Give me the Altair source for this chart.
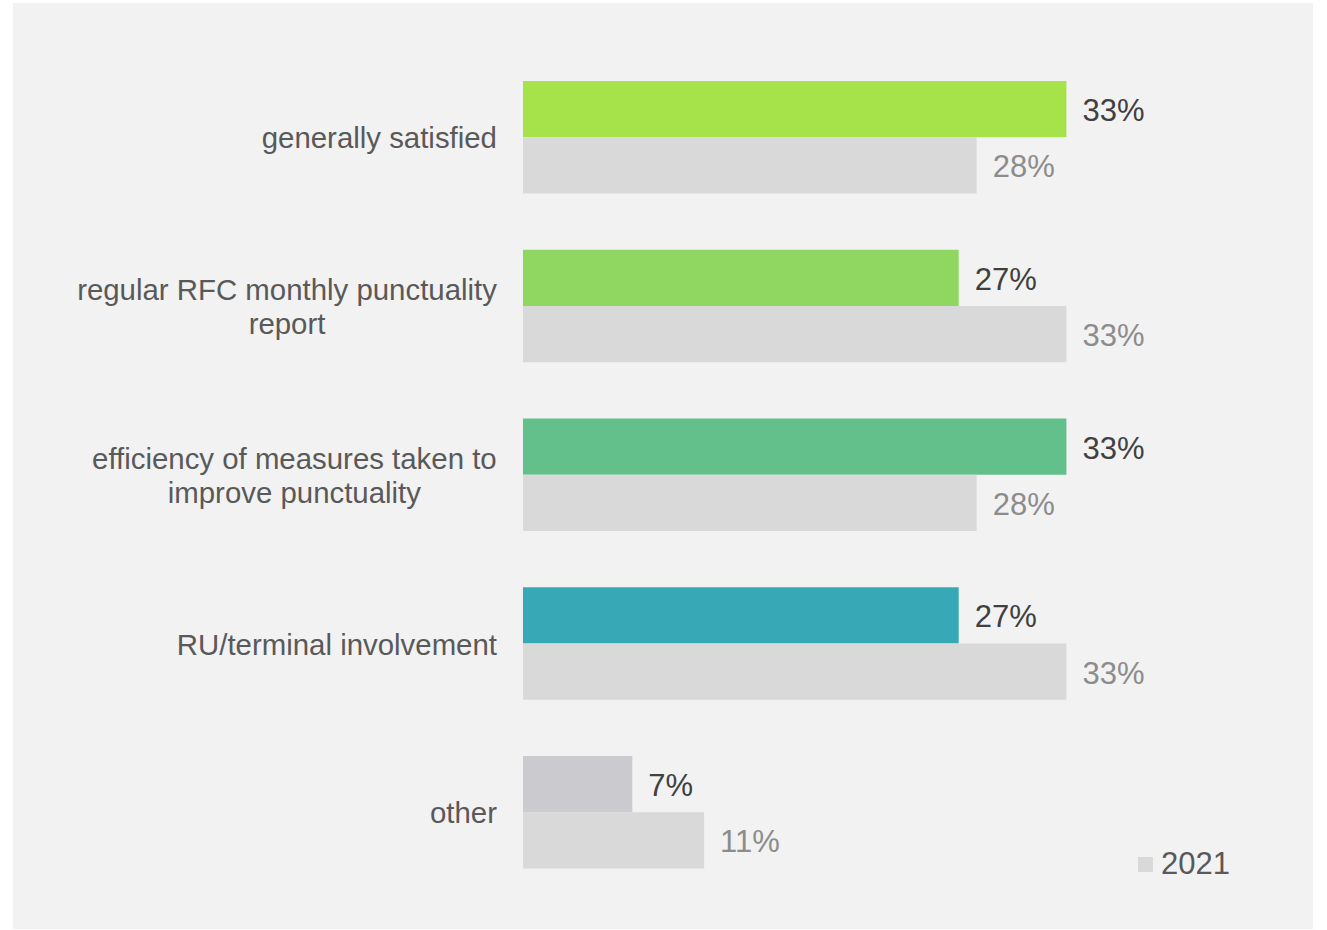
import altair as alt
import pandas as pd

# ---- data ----
categories = [
    "generally satisfied",
    "regular RFC monthly punctuality\nreport",
    "efficiency of measures taken to\nimprove punctuality",
    "RU/terminal involvement",
    "other",
]
current_values = [33.3, 26.7, 33.3, 26.7, 6.7]
previous_values = [27.8, 33.3, 27.8, 33.3, 11.1]
bar_colors = ["#a6e34b", "#8fd760", "#63c08b", "#37a8b6", "#cbcacf"]
previous_name = "2021"

# ---- layout constants ----
W, H = 1300, 926
X_MIN, X_MAX = -31.25, 48.41
PX_PER_UNIT = W / (X_MAX - X_MIN)
Y_TOP, Y_BOTTOM = 78, 865.5
FONT = "Liberation Sans"
LABEL_SIZE = 29.4
VALUE_SIZE = 31
LABEL_GAP = 26
LINE_H = 34

# Arial / Liberation Sans advance widths (per 1000 em)
_W = {" ": 278, "a": 556, "b": 556, "c": 500, "d": 556, "e": 556, "f": 278, "g": 556,
      "h": 556, "i": 222, "j": 222, "k": 500, "l": 222, "m": 833, "n": 556, "o": 556,
      "p": 556, "q": 556, "r": 333, "s": 500, "t": 278, "u": 556, "v": 500, "w": 722,
      "x": 500, "y": 500, "z": 500, "R": 722, "F": 611, "C": 722, "U": 722, "/": 278}


def text_width(s, size):
    return sum(_W.get(ch, 556) for ch in s) / 1000.0 * size


ids = [f"c{i}" for i in range(len(categories))]

# band domain: for each category a current band, a previous band and a spacer
row_domain = []
for i, cid in enumerate(ids):
    row_domain += [cid + "_cur", cid + "_prev"]
    if i < len(ids) - 1:
        row_domain.append(cid + "_gap")

cur_df = pd.DataFrame({
    "key": [c + "_cur" for c in ids],
    "value": current_values,
    "label": [f"{round(v)}%" for v in current_values],
    "barcolor": bar_colors,
})
prev_df = pd.DataFrame({
    "key": [c + "_prev" for c in ids],
    "value": previous_values,
    "label": [f"{round(v)}%" for v in previous_values],
    "series": [previous_name] * len(ids),
})

lab_rows = []
for cid, text in zip(ids, categories):
    lines = text.split("\n")
    block_w = max(text_width(l, LABEL_SIZE) for l in lines)
    lab_rows.append({
        "key": cid + "_prev",
        "txt": text,
        "multi": len(lines) > 1,
        "xc": -(LABEL_GAP + block_w / 2) / PX_PER_UNIT,
    })
labels = pd.DataFrame(lab_rows)
single_df = labels[~labels.multi].drop(columns=["multi"])
multi_df = labels[labels.multi].drop(columns=["multi"])

x_scale = alt.Scale(domain=[X_MIN, X_MAX], nice=False, zero=False)
y_scale = alt.Scale(domain=row_domain, range=[Y_TOP, Y_BOTTOM], paddingInner=0, paddingOuter=0)

Y = alt.Y("key:N", scale=y_scale, axis=None)
X = alt.X("value:Q", scale=x_scale, axis=None)

cur_bars = alt.Chart(cur_df).mark_bar().encode(
    y=Y, x=X, x2=alt.datum(0),
    color=alt.Color("barcolor:N", scale=None),
)

prev_bars = alt.Chart(prev_df).mark_bar().encode(
    y=Y, x=X, x2=alt.datum(0),
    fill=alt.Fill(
        "series:N",
        scale=alt.Scale(domain=[previous_name], range=["#d9d9d9"]),
        legend=alt.Legend(
            title=None, orient="none", legendX=1117, legendY=846, padding=0,
            symbolType="square", symbolSize=225, symbolStrokeWidth=0,
            labelFont=FONT, labelFontSize=VALUE_SIZE, labelColor="#595959",
            labelOffset=0,
        ),
    ),
)

cur_text = alt.Chart(cur_df).mark_text(
    align="left", baseline="middle", dx=16, dy=3, font=FONT, fontSize=VALUE_SIZE, color="#404040"
).encode(y=Y, x=X, text="label:N")

prev_text = alt.Chart(prev_df).mark_text(
    align="left", baseline="middle", dx=16, dy=3, font=FONT, fontSize=VALUE_SIZE, color="#8c8c8c"
).encode(y=Y, x=X, text="label:N")

Y_LAB = alt.Y("key:N", scale=y_scale, axis=None, bandPosition=0)

single_labels = alt.Chart(single_df).transform_calculate(zero="0").mark_text(
    align="right", baseline="middle", dx=-LABEL_GAP, dy=2, font=FONT, fontSize=LABEL_SIZE,
    color="#595959", lineBreak="\n", lineHeight=LINE_H,
).encode(y=Y_LAB, x=alt.X("zero:Q", scale=x_scale, axis=None), text="txt:N")

multi_labels = alt.Chart(multi_df).mark_text(
    align="center", baseline="middle", dy=2 - LINE_H / 2, font=FONT, fontSize=LABEL_SIZE,
    color="#595959", lineBreak="\n", lineHeight=LINE_H,
).encode(y=Y_LAB, x=alt.X("xc:Q", scale=x_scale, axis=None), text="txt:N")

chart = (
    alt.layer(cur_bars, prev_bars, cur_text, prev_text, single_labels, multi_labels)
    .properties(
        width=W, height=H,
        autosize=alt.AutoSizeParams(type="none"),
        padding={"left": 13, "top": 3, "right": 14, "bottom": 1},
        background="white",
    )
    .configure_view(fill="#f2f2f2", strokeWidth=0)
)

chart.save("out.html", embed_options={"renderer": "svg", "actions": False})
